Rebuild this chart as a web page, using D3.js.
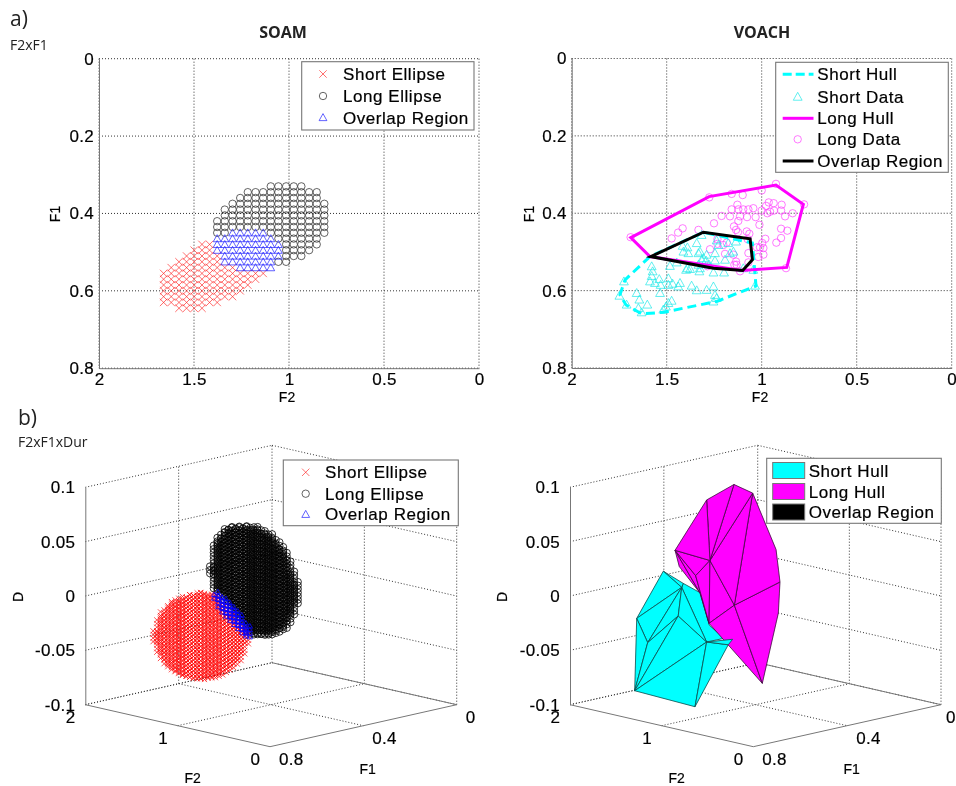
<!DOCTYPE html>
<html>
<head>
<meta charset="utf-8">
<script src="https://cdn.jsdelivr.net/npm/d3@7"></script>
<style>
  body { margin: 0; background: #fff; }
  text { font-family: "Liberation Sans", Arial, sans-serif; fill: #000; stroke: #000; stroke-width: 0.2px; }
  .note { font-family: "Open Sans", sans-serif; stroke-width: 0; fill: #222; }
  .axis path, .axis line { stroke: #777; }
  .axis text { font-family: "Liberation Sans", Arial, sans-serif; font-size: 17px; letter-spacing: 0.3px; fill: #000; }
</style>
</head>
<body>
<div id="chart"></div>
<script>
// SOAM 2D lattice
var soamF2 = [1.66,1.62,1.579,1.539,1.499,1.458,1.418,1.378,1.338,1.297,1.257,1.217,1.176,1.136,1.096,1.056,1.015,0.975,0.935,0.894,0.854,0.814];
var soamF1 = [0.33,0.345,0.36,0.375,0.39,0.405,0.42,0.435,0.45,0.465,0.48,0.495,0.51,0.525,0.54,0.555,0.57,0.585,0.6,0.615,0.63,0.645];

// [F1 index, first F2 index, last F2 index]
var soamLongRows = [[0,14,18],[1,11,20],[2,10,20],[3,9,21],[4,8,21],[5,8,21],[6,7,21],[7,7,21],[8,7,8],[8,14,21],[9,15,20],[10,16,20],[11,16,19],[12,16,18],[13,15,16]];
var soamShortRows = [[10,5,6],[11,4,6],[12,3,7],[13,2,7],[14,1,9],[15,0,13],[16,0,12],[17,0,11],[18,0,10],[19,0,9],[20,0,7],[21,2,5]];
var soamOverlapRows = [[8,9,13],[9,7,14],[10,7,15],[11,7,15],[12,8,15],[13,8,14],[14,10,14]];

// VOACH 2D [F2, F1]
var voachLongData = [[1.69,.462],[1.276,.359],[.925,.324],[.777,.377],[.872,.542],[1.114,.55],[1.158,.35],[1.1,.353],[1,.341],[1.158,.39],[1.128,.378],[1.123,.39],[1.097,.39],[1.07,.39],[1.044,.387],[1,.393],[.977,.381],[.963,.372],[.937,.374],[.956,.396],[.97,.4],[.895,.378],[.898,.393],[.935,.393],[.837,.4],[.877,.408],[1.077,.41],[1.114,.408],[1.032,.41],[1.012,.43],[1.123,.42],[1.167,.408],[1.211,.407],[1.251,.426],[1.146,.434],[1.135,.443],[1.125,.449],[1.079,.447],[1.065,.453],[1.074,.467],[1.333,.443],[1.416,.439],[1.44,.45],[1.474,.465],[.898,.44],[.865,.445],[.898,.464],[.923,.476],[.981,.466],[.997,.477],[.991,.49],[1.009,.488],[.991,.507],[1.018,.513],[1.026,.488],[1.07,.503],[1.07,.527],[1.135,.525],[1.149,.507],[1.144,.533],[1.193,.505],[1.202,.482],[1.184,.476],[1.233,.467],[1.233,.479],[1.272,.493],[1.286,.537],[1.132,.533]];
var voachShortData = [[1.579,.537],[1.574,.55],[1.579,.562],[1.588,.576],[1.539,.57],[1.562,.58],[1.532,.585],[1.491,.568],[1.535,.606],[1.491,.585],[1.469,.582],[1.43,.58],[1.439,.589],[1.369,.587],[1.342,.599],[1.29,.598],[1.254,.589],[1.246,.611],[1.254,.628],[1.237,.619],[1.658,.606],[1.644,.623],[1.602,.636],[1.649,.645],[1.711,.636],[1.749,.613],[1.725,.576],[1.632,.656],[1.491,.632],[1.504,.641],[1.474,.626],[1.518,.649],[1.483,.536],[1.447,.527],[1.391,.542],[1.398,.546],[1.377,.544],[1.328,.55],[1.254,.553],[1.198,.553],[1.035,.587],[1.044,.546],[1.342,.477],[1.316,.456],[1.416,.484],[1.391,.488],[1.412,.499],[1.386,.503],[1.325,.499],[1.333,.503],[1.29,.507],[1.307,.516],[1.293,.522],[1.276,.533],[1.246,.522],[1.246,.503],[1.228,.482],[1.176,.477],[1.135,.473],[1.237,.47],[1.167,.503],[1.149,.499],[1.193,.52],[1.325,.542],[1.333,.533],[1.316,.52],[1.097,.542]];
var voachLongHull = [[1.689,.463],[1.277,.357],[.925,.327],[.781,.377],[.868,.54],[1.105,.548],[1.588,.512]];
var voachShortHull = [[1.588,.512],[1.719,.572],[1.746,.611],[1.714,.637],[1.632,.66],[1.518,.656],[1.237,.628],[1.03,.588],[1.049,.477],[1.307,.449]];
var voachOverlap = [[1.584,.512],[1.307,.449],[1.061,.466],[1.049,.52],[1.1,.548],[1.254,.542]];

// SOAM 3D: columns of the ellipsoid lattices, [F2, lowest D, highest D], on two close F1 layers each
var ellipseLongF1 = [0.422,0.438];
var ellipseLongCols = [[1.566,.01,.019],[1.526,-.003,.04],[1.486,-.005,.047],[1.447,-.008,.052],[1.407,-.012,.056],[1.367,-.015,.058],[1.328,-.019,.06],[1.288,-.023,.061],[1.248,-.027,.061],[1.208,-.031,.062],[1.169,-.035,.063],[1.129,-.037,.063],[1.089,-.036,.063],[1.05,-.035,.063],[1.01,-.035,.062],[.97,-.034,.061],[.931,-.033,.06],[.891,-.031,.058],[.851,-.029,.054],[.811,-.026,.051],[.772,-.024,.047],[.732,-.018,.041],[.692,-.01,.031],[.652,.001,.021]];
var ellipseShortF1 = [0.562,0.578];
var ellipseShortCols = [[1.827,-.051,-.038],[1.787,-.06,-.027],[1.747,-.065,-.02],[1.708,-.069,-.015],[1.668,-.071,-.011],[1.628,-.073,-.008],[1.589,-.074,-.005],[1.549,-.075,-.003],[1.509,-.076,-.001],[1.47,-.076,.001],[1.43,-.076,.003],[1.39,-.076,.004],[1.351,-.075,.005],[1.311,-.075,.006],[1.271,-.073,.006],[1.232,-.072,.007],[1.192,-.071,.007],[1.152,-.069,.006],[1.113,-.067,.002],[1.073,-.064,-.001],[1.033,-.061,-.005],[.994,-.058,-.008],[.954,-.054,-.012],[.914,-.05,-.016],[.875,-.043,-.019],[.835,-.033,-.023]];
var ellipseOverlapF1 = [0.492,0.508];
var ellipseOverlapCols = [[1.343,-.005,.002],[1.299,-.012,.001],[1.256,-.016,-.001],[1.213,-.019,-.004],[1.169,-.022,-.006],[1.126,-.025,-.009],[1.083,-.028,-.013],[1.04,-.031,-.018],[.996,-.033,-.023]];
var latticeStepD = 0.0033;

// VOACH 3D hull vertices [F2, D], each hull at one F1
var longHullF1 = 0.43;
var longHullVerts = [[1.158,.101],[1.456,.081],[1.801,.028],[.954,.097],[.699,.05],[.656,.021],[.674,-.008],[.849,-.076],[1.42,.026],[1.576,.009],[1.154,-.01],[1.43,-.032],[1.529,-.006],[1.755,.014]];
var longHullFaces = [[2,13,12],[2,12,11,9],[2,9,8],[9,8,11],[8,10,11],[10,11,7],[10,5,6,7],[3,4,5,10],[8,3,10],[0,3,8],[0,1,8],[1,2,8]];
var shortHullF1 = 0.57;
var shortHullVerts = [[1.571,.02],[1.861,-.029],[1.883,-.096],[1.225,-.098],[.862,-.034],[.814,-.028],[1.098,-.036],[1.37,.009],[1.408,-.018],[1.741,-.049],[1.171,.008],[1.069,-.02],[1.353,.013],[.909,-.029]];
var shortHullFaces = [[7,12,10,11,13,6],[0,12,7],[0,1,7],[1,7,9],[7,8,9],[1,9,2],[9,8,2],[8,6,2],[7,8,6],[2,6,3],[6,4,3]];
var shortHullTip = [6,5,4];

var f2Ticks = [2,1.5,1,0.5,0];
var f1Ticks = [0,0.2,0.4,0.6,0.8];
var dTicks = [0.1,0.05,0,-0.05,-0.1];
var f2Ticks3d = [2,1,0];
var f1Ticks3d = [0.8,0.4,0];

var svg = d3.select("#chart").append("svg")
  .attr("width", 956)
  .attr("height", 786)
  .style("display", "block");

// the reference is a slightly soft scan
svg.append("filter").attr("id", "soft")
  .append("feGaussianBlur").attr("stdDeviation", 0.35);
var root = svg.append("g").attr("filter", "url(#soft)");

function xMark(h) { return `M${-h},${-h}L${h},${h}M${-h},${h}L${h},${-h}`; }
function circleMark(r) { return `M${-r},0A${r},${r} 0 1,1 ${r},0A${r},${r} 0 1,1 ${-r},0Z`; }
function triMark(r) { return `M0,${-r}L${r},${r * 0.8}L${-r},${r * 0.8}Z`; }

var shapes = {
  x: { d: xMark(3.7), stroke: "#ff2020", width: 0.65 },
  o: { d: circleMark(3.7), stroke: "#222", width: 0.7 },
  tri: { d: triMark(3.9), stroke: "#2020ff", width: 0.7 }
};

function drawMarks(g, pts, shape, stroke, width) {
  g.append("g").selectAll("path")
    .data(pts)
    .enter().append("path")
    .attr("transform", d => `translate(${d[0]},${d[1]})`)
    .attr("d", shape.d)
    .attr("fill", "none")
    .attr("stroke", stroke || shape.stroke)
    .attr("stroke-width", width || shape.width);
}

function drawLabel(g, txt, x, y, rot) {
  g.append("text")
    .attr("transform", `translate(${x},${y})` + (rot ? " rotate(-90)" : ""))
    .attr("text-anchor", "middle")
    .attr("font-size", 14)
    .text(txt);
}

function drawLegend(g, box, rows, textX) {
  g.append("rect")
    .attr("x", box[0]).attr("y", box[1])
    .attr("width", box[2]).attr("height", box[3])
    .attr("fill", "#fff").attr("stroke", "#777").attr("stroke-width", 1.1);
  rows.forEach(function(r) {
    g.append("text")
      .attr("x", textX).attr("y", r.y + 6)
      .attr("font-size", 17)
      .attr("letter-spacing", 0.55)
      .text(r.label);
    if (r.draw) r.draw(r.y);
  });
}

// 2D panels
var height2d = 309.5;
function panel2d(left, top, title, titleX) {
  var g = root.append("g");
  var x = d3.scaleLinear().domain([2, 0]).range([left, left + 380]);
  var y = d3.scaleLinear().domain([0, 0.8]).range([top, top + height2d]);

  g.append("g").selectAll("line")
    .data(f2Ticks)
    .enter().append("line")
    .attr("x1", d => x(d)).attr("x2", d => x(d))
    .attr("y1", top).attr("y2", top + height2d)
    .attr("stroke", "#333").attr("stroke-dasharray", "1,2");
  g.append("g").selectAll("line")
    .data(f1Ticks)
    .enter().append("line")
    .attr("x1", left).attr("x2", left + 380)
    .attr("y1", d => y(d)).attr("y2", d => y(d))
    .attr("stroke", "#333").attr("stroke-dasharray", "1,2");

  g.append("g").attr("class", "axis")
    .attr("transform", `translate(0,${top + height2d})`)
    .call(d3.axisBottom(x).tickValues(f2Ticks).tickSize(0).tickPadding(5).tickFormat(d => d));
  g.append("g").attr("class", "axis")
    .attr("transform", `translate(${left},0)`)
    .call(d3.axisLeft(y).tickValues(f1Ticks).tickSize(0).tickPadding(5).tickFormat(d => d));

  g.append("text")
    .attr("x", titleX).attr("y", 38)
    .attr("text-anchor", "middle")
    .attr("font-size", 16).attr("font-weight", "bold")
    .attr("class", "note")
    .text(title);
  return { g: g, x: x, y: y };
}

var soam = panel2d(99, 58.7, "SOAM", 283);
var voach = panel2d(571.7, 58.5, "VOACH", 762);

function rowPoints(rows, p) {
  var pts = [];
  rows.forEach(function(r) {
    d3.range(r[1], r[2] + 1).forEach(function(k) {
      pts.push([p.x(soamF2[k]), p.y(soamF1[r[0]])]);
    });
  });
  return pts;
}
drawMarks(soam.g, rowPoints(soamShortRows, soam), shapes.x);
drawMarks(soam.g, rowPoints(soamLongRows, soam), shapes.o);
drawMarks(soam.g, rowPoints(soamOverlapRows, soam), shapes.tri);

drawLabel(root, "F2", 287, 402);
drawLabel(root, "F1", 60, 214, true);
drawLabel(root, "F2", 760, 402);
drawLabel(root, "F1", 534, 214, true);

drawLegend(soam.g, [301.7, 61.7, 172.3, 68.3], [
  { label: "Short Ellipse", y: 74, draw: y => drawMarks(soam.g, [[323, y]], shapes.x) },
  { label: "Long Ellipse", y: 96, draw: y => drawMarks(soam.g, [[323, y]], shapes.o) },
  { label: "Overlap Region", y: 117.5, draw: y => drawMarks(soam.g, [[323, y]], shapes.tri) }
], 343);

var toVoach = d => [voach.x(d[0]), voach.y(d[1])];
var hullLine = d3.line().x(d => voach.x(d[0])).y(d => voach.y(d[1])).curve(d3.curveLinearClosed);

drawMarks(voach.g, voachLongData.map(toVoach), shapes.o, "#ff40ff", 0.7);
drawMarks(voach.g, voachShortData.map(toVoach), { d: triMark(4.4) }, "#20e8e8", 0.7);

voach.g.append("path")
  .attr("d", hullLine(voachShortHull))
  .attr("fill", "none").attr("stroke", "#00ffff")
  .attr("stroke-width", 3).attr("stroke-dasharray", "9,5");
voach.g.append("path")
  .attr("d", hullLine(voachLongHull))
  .attr("fill", "none").attr("stroke", "#ff00ff").attr("stroke-width", 3);
voach.g.append("path")
  .attr("d", hullLine(voachOverlap))
  .attr("fill", "none").attr("stroke", "#000").attr("stroke-width", 3);

function legendLine(g, y, color, dash) {
  g.append("line")
    .attr("x1", 782.7).attr("x2", 813.5)
    .attr("y1", y).attr("y2", y)
    .attr("stroke", color).attr("stroke-width", 3)
    .attr("stroke-dasharray", dash || null);
}
drawLegend(voach.g, [775.7, 62.3, 172.6, 110], [
  { label: "Short Hull", y: 74.3, draw: y => legendLine(voach.g, y, "#00ffff", "9,4") },
  { label: "Short Data", y: 96.7, draw: y => drawMarks(voach.g, [[797.7, y]], { d: triMark(4.4) }, "#20e8e8", 0.7) },
  { label: "Long Hull", y: 118.3, draw: y => legendLine(voach.g, y, "#ff00ff") },
  { label: "Long Data", y: 139.3, draw: y => drawMarks(voach.g, [[797.7, y]], shapes.o, "#ff40ff", 0.7) },
  { label: "Overlap Region", y: 161, draw: y => legendLine(voach.g, y, "#000") }
], 817.3);

// 3D panels, orthographic: the four floor corners and the axis height fix everything
function panel3d(leftX, frontX, rightX) {
  var g = root.append("g");
  var frontY = 746.7, rise = 42, tall = 217.4;
  var xF2 = d3.scaleLinear().domain([0, 2]).range([0, leftX - frontX]);
  var xF1 = d3.scaleLinear().domain([0.8, 0]).range([0, rightX - frontX]);
  var yF2 = d3.scaleLinear().domain([0, 2]).range([0, -rise]);
  var yF1 = d3.scaleLinear().domain([0.8, 0]).range([0, -rise]);
  var yD = d3.scaleLinear().domain([-0.1, 0.1]).range([0, -tall]);
  var project = (f2, f1, d) => [frontX + xF2(f2) + xF1(f1), frontY + yF2(f2) + yF1(f1) + yD(d)];

  function seg(a, b, dotted) {
    g.append("line")
      .attr("x1", a[0]).attr("y1", a[1])
      .attr("x2", b[0]).attr("y2", b[1])
      .attr("stroke", dotted ? "#333" : "#777")
      .attr("stroke-dasharray", dotted ? "1,2" : null);
  }
  // walls
  dTicks.forEach(function(d) {
    seg(project(2, 0.8, d), project(2, 0, d), true);
    seg(project(2, 0, d), project(0, 0, d), true);
  });
  f1Ticks3d.slice(1).forEach(f1 => seg(project(2, f1, -0.1), project(2, f1, 0.1), true));
  f2Ticks3d.slice(1).forEach(f2 => seg(project(f2, 0, -0.1), project(f2, 0, 0.1), true));
  // floor
  seg(project(1, 0.8, -0.1), project(1, 0, -0.1), true);
  seg(project(2, 0.4, -0.1), project(0, 0.4, -0.1), true);
  seg(project(2, 0.8, -0.1), project(2, 0, -0.1), true);
  seg(project(2, 0, -0.1), project(0, 0, -0.1));
  seg(project(2, 0.8, -0.1), project(0, 0.8, -0.1));
  seg(project(0, 0.8, -0.1), project(0, 0, -0.1));

  var dScale = d3.scaleLinear().domain([-0.1, 0.1]).range([project(2, 0.8, -0.1)[1], project(2, 0.8, 0.1)[1]]);
  g.append("g").attr("class", "axis")
    .attr("transform", `translate(${leftX},0)`)
    .call(d3.axisLeft(dScale).tickValues(dTicks).tickSize(0).tickPadding(10).tickFormat(d => d));

  f2Ticks3d.forEach(function(t) {
    var p = project(t, 0.8, -0.1);
    g.append("text").attr("x", p[0] - 10).attr("y", p[1] + 18)
      .attr("text-anchor", "end").attr("font-size", 17).text(t);
  });
  f1Ticks3d.forEach(function(t) {
    var p = project(0, t, -0.1);
    g.append("text").attr("x", Math.min(p[0] + 9, 946)).attr("y", p[1] + 18)
      .attr("font-size", 17).attr("letter-spacing", 0.3).text(t);
  });
  return { g: g, project: project };
}

var ell = panel3d(85.3, 270, 456.7);
var hull = panel3d(570, 753.3, 941);

drawLabel(root, "D", 23, 597, true);
drawLabel(root, "F2", 192.7, 783);
drawLabel(root, "F1", 367.7, 774);
drawLabel(root, "D", 507, 597, true);
drawLabel(root, "F2", 676.7, 783);
drawLabel(root, "F1", 851.7, 774);

function colPoints(cols, layers, p) {
  var pts = [];
  layers.forEach(function(f1, i) {
    cols.forEach(function(c) {
      d3.range(c[1] + i * latticeStepD / 2, c[2] + 1e-6, latticeStepD).forEach(function(d) {
        pts.push(p.project(c[0], f1, d));
      });
    });
  });
  return pts;
}
drawMarks(ell.g, colPoints(ellipseLongCols, ellipseLongF1, ell), { d: circleMark(3.4) }, "#000", 0.8);
drawMarks(ell.g, colPoints(ellipseShortCols, ellipseShortF1, ell), { d: xMark(2.6) }, "#ff0000", 0.7);
drawMarks(ell.g, colPoints(ellipseOverlapCols, ellipseOverlapF1, ell), { d: triMark(2.6) }, "#0808ff", 0.8);

drawLegend(ell.g, [283.3, 460, 175, 65.7], [
  { label: "Short Ellipse", y: 472.3, draw: y => drawMarks(ell.g, [[305.7, y]], shapes.x) },
  { label: "Long Ellipse", y: 493.7, draw: y => drawMarks(ell.g, [[305.7, y]], shapes.o) },
  { label: "Overlap Region", y: 514.3, draw: y => drawMarks(ell.g, [[305.7, y]], shapes.tri) }
], 325);

function drawFaces(faces, verts, f1, fill, edge) {
  hull.g.append("g").selectAll("path")
    .data(faces)
    .enter().append("path")
    .attr("d", face => "M" + face.map(i => hull.project(verts[i][0], f1, verts[i][1]).join(",")).join("L") + "Z")
    .attr("fill", fill)
    .attr("stroke", edge)
    .attr("stroke-width", 0.8)
    .attr("stroke-linejoin", "round");
}
drawFaces(shortHullFaces, shortHullVerts, shortHullF1, "#00ffff", "#0a4a4a");
drawFaces(longHullFaces, longHullVerts, longHullF1, "#ff00ff", "#3d0a3d");
drawFaces([shortHullTip], shortHullVerts, shortHullF1, "#00ffff", "#0a4a4a");

function swatch(g, y, fill) {
  g.append("rect")
    .attr("x", 772.7).attr("y", y - 8)
    .attr("width", 32).attr("height", 16)
    .attr("fill", fill).attr("stroke", "#777");
}
drawLegend(hull.g, [766.7, 458.3, 174.6, 65], [
  { label: "Short Hull", y: 470.5, draw: y => swatch(hull.g, y, "#00ffff") },
  { label: "Long Hull", y: 491.5, draw: y => swatch(hull.g, y, "#ff00ff") },
  { label: "Overlap Region", y: 512, draw: y => swatch(hull.g, y, "#000") }
], 808.7);

// panel notes
root.append("text").attr("class", "note").attr("x", 10).attr("y", 26).attr("font-size", 21).text("a)");
root.append("text").attr("class", "note").attr("x", 10).attr("y", 50).attr("font-size", 14).text("F2xF1");
root.append("text").attr("class", "note").attr("x", 18).attr("y", 425).attr("font-size", 21).text("b)");
root.append("text").attr("class", "note").attr("x", 18).attr("y", 447).attr("font-size", 14).text("F2xF1xDur");
</script>
</body>
</html>
